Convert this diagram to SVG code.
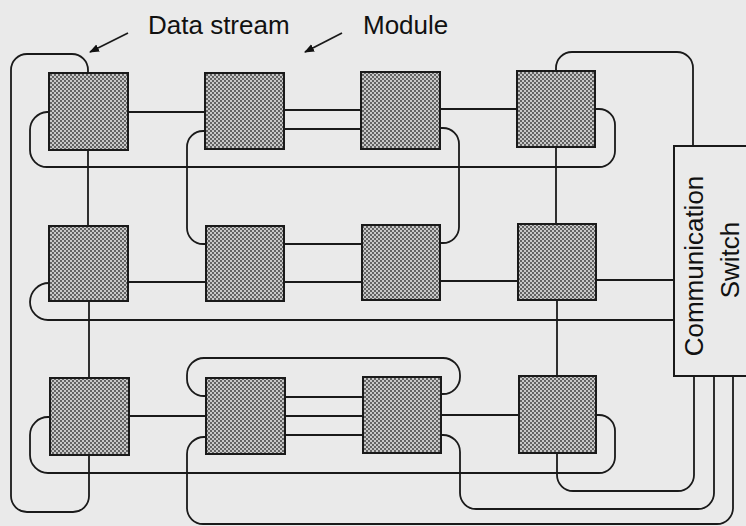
<svg xmlns="http://www.w3.org/2000/svg" width="746" height="526" viewBox="0 0 746 526">
<style>
.mod{fill:url(#dots);stroke:#1a1a1a;stroke-width:2}
.c{fill:none;stroke:#1a1a1a;stroke-width:1.8}
.lbl{font-family:"Liberation Sans",Arial,sans-serif;font-size:26px;fill:#111}
.sw{fill:none;stroke:#1a1a1a;stroke-width:2}
</style>
<defs>
<pattern id="dots" width="4" height="4" patternUnits="userSpaceOnUse">
<rect width="4" height="4" fill="#c8c8c8"/>
<circle cx="1" cy="1" r="0.9" fill="#333"/>
<circle cx="3" cy="3" r="0.9" fill="#333"/>
</pattern>
<marker id="ah" viewBox="0 0 10 10" refX="9" refY="5" markerWidth="10" markerHeight="10" markerUnits="userSpaceOnUse" orient="auto">
<path d="M0,1 L10,5 L0,9 Z" fill="#111"/>
</marker>
</defs>
<rect width="746" height="526" fill="#eaeaea"/>

<g id="connectors">
<path class="c" d="M88,73 V70 A16,16 0 0 0 72,54 H27 A16,16 0 0 0 11,70 V496 A16,16 0 0 0 27,512 H73 A16,16 0 0 0 89,496 V455"/>
<path class="c" d="M49,112 H47 A18,18 0 0 0 30,130 V150 A17,17 0 0 0 47,167 H599 A16,16 0 0 0 615,151 V125 A16,16 0 0 0 599,109 H595"/>
<path class="c" d="M128,112 H205"/>
<path class="c" d="M284,110 H361"/>
<path class="c" d="M440,109 H517"/>
<path class="c" d="M284,129 H361"/>
<path class="c" d="M205,131 H203 A16,16 0 0 0 187,147 V228 A16,16 0 0 0 203,244 H206"/>
<path class="c" d="M440,128 H443 A16,16 0 0 1 459,144 V227 A16,16 0 0 1 443,243 H440"/>
<path class="c" d="M284,244 H362"/>
<path class="c" d="M88,150 V226"/>
<path class="c" d="M89,301 V378"/>
<path class="c" d="M556,147 V224"/>
<path class="c" d="M557,300 V376"/>
<path class="c" d="M556,71 V68 A16,16 0 0 1 572,52 H677 A16,16 0 0 1 693,68 V146"/>
<path class="c" d="M128,282 H206"/>
<path class="c" d="M284,282 H362"/>
<path class="c" d="M440,281 H518"/>
<path class="c" d="M596,280 H674"/>
<path class="c" d="M49,283 A19,19 0 0 0 30,302 A18,18 0 0 0 48,320 H674"/>
<path class="c" d="M129,416 H206"/>
<path class="c" d="M285,397 H363"/>
<path class="c" d="M285,416 H363"/>
<path class="c" d="M285,435 H363"/>
<path class="c" d="M441,415 H519"/>
<path class="c" d="M206,396 H204 A17,17 0 0 1 187,379 V375 A17,17 0 0 1 204,358 H443 A17,17 0 0 1 460,375 V377 A17,17 0 0 1 443,394 H441"/>
<path class="c" d="M50,417 H48 A18,18 0 0 0 30,435 V455 A18,18 0 0 0 48,473 H599 A16,16 0 0 0 615,457 V431 A16,16 0 0 0 599,415 H596"/>
<path class="c" d="M206,437 H204 A17,17 0 0 0 187,454 V508 A16,16 0 0 0 203,524 H717 A16,16 0 0 0 733,508 V376"/>
<path class="c" d="M441,435 H443 A17,17 0 0 1 460,452 V493 A16,16 0 0 0 476,509 H698 A16,16 0 0 0 714,493 V376"/>
<path class="c" d="M557,453 V475 A16,16 0 0 0 573,491 H678 A16,16 0 0 0 694,475 V376"/>
</g>

<g id="m11"><rect class="mod" x="49" y="73" width="79" height="77"/></g>
<g id="m12"><rect class="mod" x="205" y="73" width="79" height="76"/></g>
<g id="m13"><rect class="mod" x="361" y="72" width="79" height="77"/></g>
<g id="m14"><rect class="mod" x="517" y="71" width="78" height="76"/></g>
<g id="m21"><rect class="mod" x="49" y="226" width="79" height="75"/></g>
<g id="m22"><rect class="mod" x="206" y="226" width="78" height="75"/></g>
<g id="m23"><rect class="mod" x="362" y="225" width="78" height="75"/></g>
<g id="m24"><rect class="mod" x="518" y="224" width="78" height="76"/></g>
<g id="m31"><rect class="mod" x="50" y="378" width="79" height="77"/></g>
<g id="m32"><rect class="mod" x="206" y="378" width="79" height="76"/></g>
<g id="m33"><rect class="mod" x="363" y="377" width="78" height="76"/></g>
<g id="m34"><rect class="mod" x="519" y="376" width="77" height="77"/></g>

<g id="switch">
<rect class="sw" x="674" y="146" width="82" height="230"/>
<text class="lbl" transform="translate(703,266) rotate(-90)" text-anchor="middle">Communication</text>
<text class="lbl" transform="translate(739,260) rotate(-90)" text-anchor="middle">Switch</text>
</g>

<g id="label-data-stream">
<text class="lbl" x="148" y="34">Data stream</text>
<path class="c" d="M128,33 L90,52" marker-end="url(#ah)"/>
</g>
<g id="label-module">
<text class="lbl" x="363" y="34">Module</text>
<path class="c" d="M342,33 L305,52" marker-end="url(#ah)"/>
</g>
</svg>
